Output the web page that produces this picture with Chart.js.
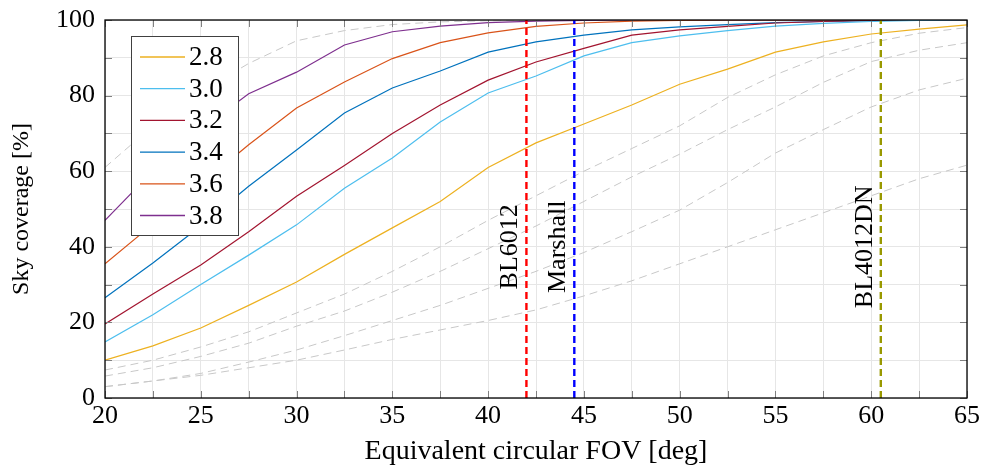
<!DOCTYPE html>
<html>
<head>
<meta charset="utf-8">
<script src="https://cdn.jsdelivr.net/npm/chart.js@4.4.0/dist/chart.umd.min.js"></script>
<style>
  html, body { margin: 0; padding: 0; background: #fff; }
  #wrap { width: 983px; height: 466px; }
</style>
</head>
<body>
<div id="wrap"><canvas id="chart" width="983" height="466"></canvas></div>
<script>
// Equivalent circular FOV [deg]
const fov = [20, 22.5, 25, 27.5, 30, 32.5, 35, 37.5, 40, 42.5, 45, 47.5, 50, 52.5, 55, 57.5, 60, 62.5, 65];

// Sky coverage [%] per curve
const cov28 = [10, 13.8, 18.5, 24.5, 30.7, 38, 45, 52, 61, 67.5, 72.5, 77.5, 83, 87, 91.5, 94.2, 96.3, 97.6, 98.7];
const cov30 = [14.8, 22, 30, 37.8, 45.8, 55.5, 63.5, 73, 80.7, 85.2, 90.5, 94, 95.8, 97.2, 98.4, 99.1, 99.6, 99.9, 100];
const cov32 = [19.6, 27.5, 35.2, 44, 53.4, 61.5, 70, 77.5, 84.1, 88.9, 92.5, 96, 97.4, 98.3, 99.2, 99.6, 99.9, 100, 100];
const cov34 = [26.5, 35.7, 45.5, 56, 65.6, 75.4, 82, 86.5, 91.5, 94.2, 96, 97.4, 98.2, 98.8, 99.3, 99.6, 99.8, 100, 100];
const cov36 = [35.5, 46, 56.5, 67, 76.7, 83.6, 89.8, 94, 96.6, 98.3, 99.2, 99.7, 99.9, 100, 100, 100, 100, 100, 100];
const cov38 = [47, 60, 71, 80.5, 86.2, 93.4, 96.9, 98.4, 99.3, 99.7, 99.9, 100, 100, 100, 100, 100, 100, 100, 100];

// grey reference curves
const ref40 = [61, 72, 81, 88.5, 94.5, 97.2, 98.8, 99.5, 99.8, 100, 100, 100, 100, 100, 100, 100, 100, 100, 100];
const ref26 = [7.4, 10, 13.5, 17.5, 22.5, 27.5, 33.5, 40, 47, 53.5, 60, 66, 72, 79.5, 85.5, 90.5, 94, 96.5, 98];
const ref24 = [5.8, 8, 11, 14.5, 19, 23, 28, 33.5, 39.5, 45.5, 52, 58.5, 64.5, 71, 77, 83.5, 89, 92, 94];
const ref22 = [3, 4.5, 6.5, 9.5, 12.7, 16.5, 20.5, 24.5, 29, 33.5, 38.5, 44, 49.7, 57, 64.8, 71, 77, 81.5, 84.6];
const ref20 = [3, 4.5, 6, 8, 10, 12.7, 15.5, 18, 20.5, 23.3, 27, 31, 35.5, 40, 44.5, 49, 53.5, 58, 61.6];

const seriesLabels = ['2.8', '3.0', '3.2', '3.4', '3.6', '3.8'];
const seriesValues = [cov28, cov30, cov32, cov34, cov36, cov38];
const seriesColors = ['#EDB120', '#4DBEEE', '#A2142F', '#0072BD', '#D95319', '#7E2F8E'];
const refValues = [ref40, ref26, ref24, ref22, ref20];

// camera markers
const markerNames = ['BL6012', 'Marshall', 'BL4012DN'];
const markerFov = [42, 44.5, 60.5];
const markerColors = ['#ff0000', '#0000ff', '#999900'];
const markerLabelAt = 40;

const xTicks = [20, 25, 30, 35, 40, 45, 50, 55, 60, 65];
const yTicks = [0, 20, 40, 60, 80, 100];

const SERIF = '"Liberation Serif", "Times New Roman", serif';
Chart.defaults.font.family = SERIF;
Chart.defaults.color = '#000';

const toPoints = vals => vals.map((v, i) => ({ x: fov[i], y: v }));

const datasets = [];
markerFov.forEach((f, i) => {
    datasets.push({
        label: markerNames[i],
        data: [{ x: f, y: 0 }, { x: f, y: 100 }],
        borderColor: markerColors[i],
        borderWidth: 2.4,
        borderDash: [7, 4],
        pointRadius: 0,
        order: 1
    });
});
seriesValues.forEach((vals, i) => {
    datasets.push({
        label: seriesLabels[i],
        data: toPoints(vals),
        borderColor: seriesColors[i],
        borderWidth: 1.2,
        pointRadius: 0,
        inLegend: true,
        order: 2
    });
});
refValues.forEach(vals => {
    datasets.push({
        label: '',
        data: toPoints(vals),
        borderColor: '#c8c8c8',
        borderWidth: 1,
        borderDash: [8, 5],
        pointRadius: 0,
        order: 3
    });
});

// frame + inward tick marks
const frameTicks = {
    id: 'frameTicks',
    afterDatasetsDraw(chart) {
        const { ctx, chartArea: a, scales: { x, y } } = chart;
        ctx.save();
        ctx.strokeStyle = '#808080';
        ctx.lineWidth = 1;
        ctx.beginPath();
        x.ticks.forEach(t => {
            const px = Math.round(x.getPixelForValue(t.value)) + 0.5;
            ctx.moveTo(px, a.bottom); ctx.lineTo(px, a.bottom - 7);
            ctx.moveTo(px, a.top); ctx.lineTo(px, a.top + 7);
        });
        y.ticks.forEach(t => {
            const py = Math.round(y.getPixelForValue(t.value)) + 0.5;
            ctx.moveTo(a.left, py); ctx.lineTo(a.left + 7, py);
            ctx.moveTo(a.right, py); ctx.lineTo(a.right - 7, py);
        });
        ctx.stroke();
        ctx.strokeStyle = '#000';
        ctx.lineWidth = 1.3;
        ctx.strokeRect(a.left, a.top, a.right - a.left, a.bottom - a.top);
        ctx.restore();
    }
};

// rotated labels next to the marker lines
const markerLabels = {
    id: 'markerLabels',
    afterDatasetsDraw(chart) {
        const { ctx, scales: { x, y } } = chart;
        ctx.save();
        ctx.font = '26px ' + SERIF;
        ctx.fillStyle = '#000';
        ctx.textAlign = 'center';
        ctx.textBaseline = 'alphabetic';
        markerFov.forEach((f, i) => {
            ctx.save();
            ctx.translate(x.getPixelForValue(f) - 9, y.getPixelForValue(markerLabelAt));
            ctx.rotate(-Math.PI / 2);
            ctx.fillText(markerNames[i], 0, 0);
            ctx.restore();
        });
        ctx.restore();
    }
};

// boxed legend inside the plot
const legendBox = {
    id: 'legendBox',
    afterDraw(chart) {
        const { ctx, chartArea: a } = chart;
        const items = chart.data.datasets.filter(d => d.inLegend);
        const x0 = a.left + 26, y0 = a.top + 16;
        const w = 107, h = 199, rowH = 31.7;
        ctx.save();
        ctx.fillStyle = '#fff';
        ctx.fillRect(x0, y0, w, h);
        ctx.strokeStyle = '#404040';
        ctx.lineWidth = 1;
        ctx.strokeRect(x0 + 0.5, y0 + 0.5, w, h);
        ctx.font = '27px ' + SERIF;
        ctx.textBaseline = 'middle';
        items.forEach((d, i) => {
            const yy = y0 + 21 + i * rowH;
            ctx.strokeStyle = d.borderColor;
            ctx.lineWidth = 1.3;
            ctx.beginPath();
            ctx.moveTo(x0 + 9, yy);
            ctx.lineTo(x0 + 54, yy);
            ctx.stroke();
            ctx.fillStyle = '#000';
            ctx.fillText(d.label, x0 + 58, yy + 1);
        });
        ctx.restore();
    }
};

new Chart(document.getElementById('chart').getContext('2d'), {
    type: 'line',
    data: { datasets },
    options: {
        responsive: false,
        animation: false,
        devicePixelRatio: 1,
        layout: { padding: { top: 20, right: 16, left: 0, bottom: 0 } },
        elements: { line: { tension: 0 } },
        plugins: {
            legend: { display: false },
            tooltip: { enabled: false }
        },
        scales: {
            x: {
                type: 'linear',
                min: 20,
                max: 65,
                afterFit: s => { s.height = 68; s.paddingLeft = 0; s.paddingRight = 0; },
                grid: { color: '#e6e6e6', lineWidth: 1, drawTicks: false },
                border: { display: false },
                ticks: {
                    stepSize: 2.5,
                    autoSkip: false,
                    maxRotation: 0,
                    padding: 3,
                    font: { size: 26 },
                    callback: v => (xTicks.includes(v) ? v : '')
                },
                title: {
                    display: true,
                    text: 'Equivalent circular FOV [deg]',
                    font: { size: 28, lineHeight: 1 },
                    padding: { top: 0, bottom: 0 }
                }
            },
            y: {
                min: 0,
                max: 100,
                afterFit: s => { s.width = 105; s.paddingTop = 0; s.paddingBottom = 0; },
                grid: { color: '#e6e6e6', lineWidth: 1, drawTicks: false },
                border: { display: false },
                ticks: {
                    stepSize: 10,
                    autoSkip: false,
                    padding: 10,
                    font: { size: 26 },
                    callback: v => (yTicks.includes(v) ? v : '')
                },
                title: {
                    display: true,
                    text: 'Sky coverage [%]',
                    font: { size: 24, lineHeight: 1 },
                    padding: { top: 10, bottom: 0 }
                }
            }
        }
    },
    plugins: [frameTicks, markerLabels, legendBox]
});
</script>
</body>
</html>
